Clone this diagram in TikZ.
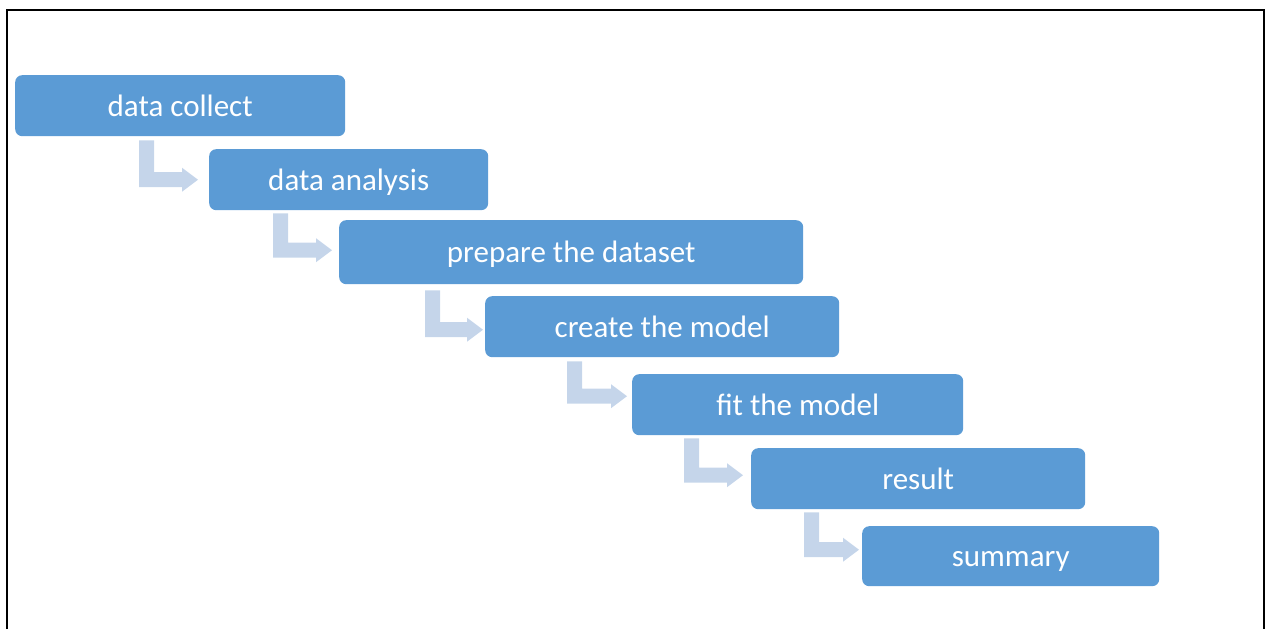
\documentclass[tikz,border=0pt]{standalone}
\usepackage{fontspec}
\setmainfont{Carlito}
\usetikzlibrary{calc}
\definecolor{boxblue}{HTML}{5B9BD5}
\definecolor{arrowblue}{HTML}{C5D5EA}
\tikzset{
  stepbox/.style={rectangle, rounded corners=7pt, fill=boxblue, draw=none, text=white,
    anchor=north west, inner sep=0pt, text height=24pt, text depth=3pt,
    font=\fontsize{31}{37}\selectfont},
  bentarrow/.style={fill=arrowblue, draw=none},
}
% #1 prev node, #2 next node, #3 bar offset left of next.west, #4 gap below prev,
% #5 gap between tip and next.west, #6 vertical offset of arrow axis from next.west
\newcommand{\bentarr}[6]{%
  \fill[bentarrow] ($(#2.west |- #1.south)+(-#3,#4)$) -- ++(15,0)
    -- ($(#2.west)+(-#3+15,#6-7.5)$) -- ($(#2.west)+(-#5-16,#6-7.5)$) -- ++(0,-4.5)
    -- ($(#2.west)+(-#5,#6)$) -- ($(#2.west)+(-#5-16,#6+12)$) -- ++(0,-4.5)
    -- ($(#2.west)+(-#3,#6+7.5)$) -- cycle;}
\begin{document}
\begin{tikzpicture}[x=1pt,y=-1pt]
\useasboundingbox (0,0) rectangle (1266,629);
\draw[line width=2pt] (7,629) -- (7,10) -- (1264,10) -- (1264,629);

\node[stepbox, minimum width=330pt, minimum height=61pt] (b1) at (15,75) {data collect};
\node[stepbox, minimum width=279pt, minimum height=61pt] (b2) at (209,149) {data analysis};
\node[stepbox, minimum width=464pt, minimum height=64pt] (b3) at (339,220) {prepare the dataset};
\node[stepbox, minimum width=354pt, minimum height=61pt] (b4) at (485,296) {create the model};
\node[stepbox, minimum width=331pt, minimum height=61pt] (b5) at (632,374) {fit the model};
\node[stepbox, minimum width=334pt, minimum height=61pt] (b6) at (751,448) {result};
\node[stepbox, minimum width=297pt, minimum height=60pt] (b7) at (862,526) {summary};

\bentarr{b1}{b2}{70}{4}{11}{0}
\bentarr{b2}{b3}{66}{3}{7}{-2}
\bentarr{b3}{b4}{60}{6}{2}{3}
\bentarr{b4}{b5}{65}{4}{5}{-8.5}
\bentarr{b5}{b6}{67}{3}{8}{-3.5}
\bentarr{b6}{b7}{58}{3}{3}{-6.5}
\end{tikzpicture}
\end{document}
